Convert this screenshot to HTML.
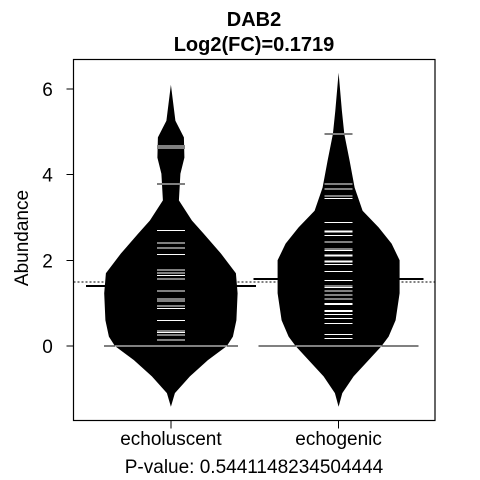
<!DOCTYPE html>
<html><head><meta charset="utf-8"><style>
html,body{margin:0;padding:0;background:#fff}
svg{display:block;font-family:"Liberation Sans",Arial,sans-serif}
line{shape-rendering:crispEdges}
</style></head><body>
<svg id="chart" width="480" height="480" viewBox="0 0 480 480">
<text x="254" y="26" text-anchor="middle" font-size="20" font-weight="bold">DAB2</text>
<text x="254" y="51" text-anchor="middle" font-size="20" font-weight="bold">Log2(FC)=0.1719</text>
<text transform="translate(28,238) rotate(-90)" text-anchor="middle" font-size="19">Abundance</text>
<text x="254" y="473" text-anchor="middle" font-size="19">P-value: 0.5441148234504444</text>
<g id="plot"></g>
<rect x="73.5" y="59.5" width="361.5" height="361" fill="none" stroke="#000" stroke-width="1.2"/>
</svg>
<script>
const categories=["echoluscent","echogenic"];
const yTicks=[0,2,4,6];
const groupMeans=[1.40,1.57];
const overallMean=1.49;
const bean1Y=[6.1,5.26,4.87,4.4,4.02,3.4,2.93,2.63,2.16,1.7,1.23,0.6,0.22,0,-0.33,-0.71,-1.1,-1.42];
const bean1W=[0,4.5,13,13.5,9.5,8,21,32.5,50,65,66.7,65.5,62,56,37,19,4,0];
const bean2Y=[6.38,5.49,4.95,4.33,3.7,3.16,2.77,2.39,2.0,1.23,0.6,0.22,0,-0.33,-0.71,-1.1,-1.42];
const bean2W=[0,3.3,5.7,11,16,24,40,53,61,61,57,50,43,30,15,3.7,0];
const bean1Lines=[4.67,4.62,3.78,2.70,2.40,2.29,2.14,1.77,1.71,1.65,1.57,1.41,1.28,1.10,1.05,0.93,0.88,0.60,0.35,0.31,0.26,0.14,0];
const bean2Lines=[4.95,3.78,3.67,3.50,3.44,2.88,2.68,2.66,2.58,2.43,2.26,2.23,2.12,2.10,1.99,1.96,1.90,1.74,1.53,1.40,1.36,1.28,1.19,1.10,0.99,0.97,0.83,0.80,0.74,0.64,0.53,0.27,0.18,0];

const NS="http://www.w3.org/2000/svg";
const X0=73.5,X1=435,Y0=59.5,Y1=420.5;
const yMin=-1.74,yMax=6.69;
const xLo=0.419,xHi=2.575;
function ys(v){return Y1-(v-yMin)/(yMax-yMin)*(Y1-Y0);}
function xs(i){return X0+(i+1-xLo)/(xHi-xLo)*(X1-X0);}
const g=document.getElementById('plot');
function mk(tag,attrs,parent){const e=document.createElementNS(NS,tag);for(const k in attrs)e.setAttribute(k,attrs[k]);(parent||g).appendChild(e);return e;}

yTicks.forEach(t=>{
  const l=mk('line',{x1:X0-7,x2:X0,y1:ys(t),y2:ys(t),stroke:'#000','stroke-width':1});
  
  
  const tx=mk('text',{x:X0-26,y:ys(t)+7,'text-anchor':'middle','font-size':19});
  tx.textContent=t;
  
  
});
const om=mk('line',{x1:X0,x2:X1,y1:ys(overallMean),y2:ys(overallMean),stroke:'#000','stroke-width':1,'stroke-dasharray':'2,2'});



const beans=[[bean1Y,bean1W,bean1Lines,67],[bean2Y,bean2W,bean2Lines,80]];
beans.forEach((b,i)=>{
  const cx=xs(i);
  const [by,bw,bl,zw]=b;
  const xt=mk('line',{x1:cx,x2:cx,y1:Y1,y2:Y1+8,stroke:'#000','stroke-width':1});
  
  
  const xl=mk('text',{x:cx,y:445,'text-anchor':'middle','font-size':19});
  xl.textContent=categories[i];
  
  
  bl.forEach(v=>{
    const hw=v===0?zw:14;
    const l=mk('line',{x1:cx-hw,x2:cx+hw,y1:ys(v),y2:ys(v),stroke:'#000','stroke-width':1});
    
    
  });
  let pts=[];
  for(let k=0;k<by.length;k++)pts.push((cx+bw[k]).toFixed(1)+','+ys(by[k]).toFixed(1));
  for(let k=by.length-1;k>=0;k--)pts.push((cx-bw[k]).toFixed(1)+','+ys(by[k]).toFixed(1));
  const cp=mk('clipPath',{id:'clip'+i});
  mk('polygon',{points:pts.join(' ')},cp);
  const poly=mk('polygon',{points:pts.join(' '),fill:'#000'});
  
  
  const wg=mk('g',{'clip-path':'url(#clip'+i+')'});
  bl.forEach(v=>{
    const hw=v===0?zw:14;
    const l=mk('line',{x1:cx-hw,x2:cx+hw,y1:ys(v),y2:ys(v),stroke:'#fff','stroke-width':1},wg);
    
    
  });
  const gm=mk('line',{x1:cx-85,x2:cx+85,y1:ys(groupMeans[i]),y2:ys(groupMeans[i]),stroke:'#000','stroke-width':2});
  
  
});
</script>
</body></html>
